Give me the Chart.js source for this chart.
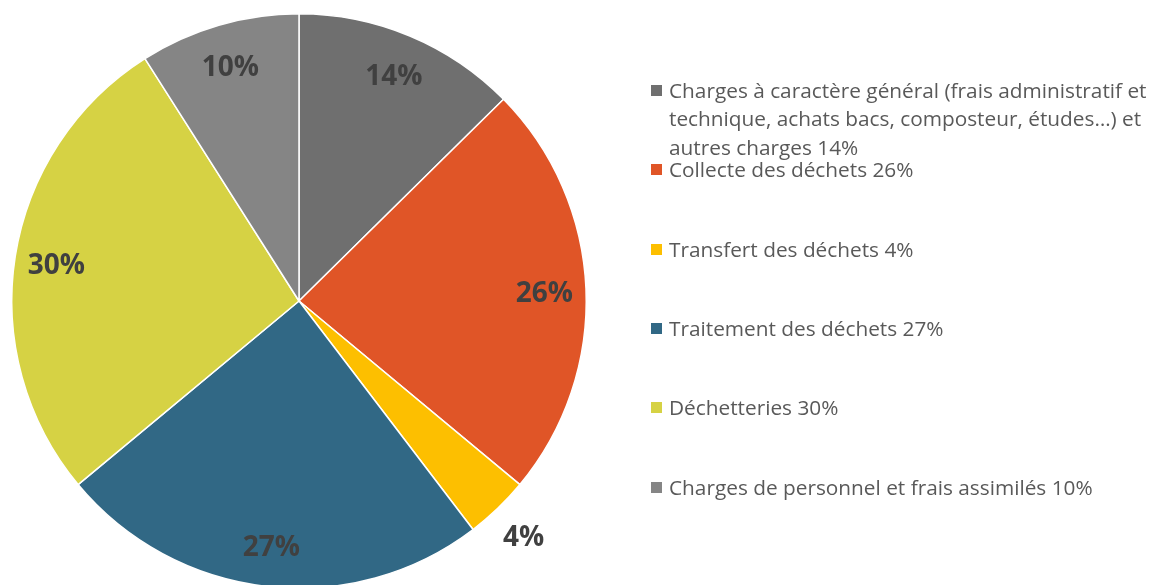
<!DOCTYPE html>
<html>
<head>
<meta charset="utf-8">
<script src="https://cdn.jsdelivr.net/npm/chart.js@4.4.1/dist/chart.umd.min.js"></script>
<style>
  html, body { margin: 0; padding: 0; background: #ffffff; width: 1159px; height: 585px; overflow: hidden; }
  #wrap { position: absolute; left: 0; top: 0; width: 620px; height: 602px; }
  #legend { position: absolute; left: 0; top: 0; width: 1159px; height: 585px; pointer-events: none; }
  .item { position: absolute; left: 651px; width: 508px; font-family: "Open Sans", sans-serif; font-size: 20.8px; line-height: 28.5px; color: #595959; }
  .box { position: absolute; left: 0; top: 9px; width: 11px; height: 11px; }
  .txt { margin-left: 18px; }
</style>
</head>
<body>
<div id="wrap"><canvas id="c"></canvas></div>
<div id="legend"></div>
<script>
const categories = [
  "Charges à caractère général (frais administratif et technique, achats bacs, composteur, études…) et autres charges",
  "Collecte des déchets",
  "Transfert des déchets",
  "Traitement des déchets",
  "Déchetteries",
  "Charges de personnel et frais assimilés"
];
const values = [14, 26, 4, 27, 30, 10];
const colors = ["#6f6f6f", "#e05527", "#fdbf00", "#316885", "#d6d244", "#858585"];

const labelPlugin = {
  id: 'pctLabels',
  afterDatasetsDraw(chart) {
    const ctx = chart.ctx;
    const meta = chart.getDatasetMeta(0);
    const total = values.reduce((a, b) => a + b, 0);
    ctx.save();
    ctx.font = 'bold 28px "Open Sans", sans-serif';
    ctx.fillStyle = '#404040';
    ctx.textAlign = 'center';
    ctx.textBaseline = 'middle';
    meta.data.forEach((arc, i) => {
      const p = arc.getProps(['x', 'y', 'startAngle', 'endAngle', 'outerRadius'], true);
      const mid = (p.startAngle + p.endAngle) / 2;
      const f = values[i] / total < 0.05 ? 1.13 : 0.855;
      const r = p.outerRadius * f;
      ctx.fillText(values[i] + '%', p.x + Math.cos(mid) * r, p.y + Math.sin(mid) * r + 3);
    });
    ctx.restore();
  }
};

new Chart(document.getElementById('c'), {
  type: 'pie',
  data: {
    labels: categories,
    datasets: [{
      data: values,
      backgroundColor: colors,
      borderColor: '#ffffff',
      borderWidth: 1.5
    }]
  },
  options: {
    responsive: true,
    maintainAspectRatio: false,
    animation: false,
    layout: { padding: { left: 11, top: 13, right: 33, bottom: 13 } },
    plugins: { legend: { display: false }, tooltip: { enabled: false } }
  },
  plugins: [labelPlugin]
});

// HTML legend built from the data arrays
const legend = document.getElementById('legend');
const firstCenter = 90, step = 79.4;
categories.forEach((name, i) => {
  const d = document.createElement('div');
  d.className = 'item';
  d.style.top = (firstCenter + i * step - 14.25) + 'px';
  const b = document.createElement('div');
  b.className = 'box';
  b.style.background = colors[i];
  const t = document.createElement('div');
  t.className = 'txt';
  t.textContent = name + ' ' + values[i] + '%';
  d.appendChild(b); d.appendChild(t);
  legend.appendChild(d);
});
</script>
</body>
</html>
